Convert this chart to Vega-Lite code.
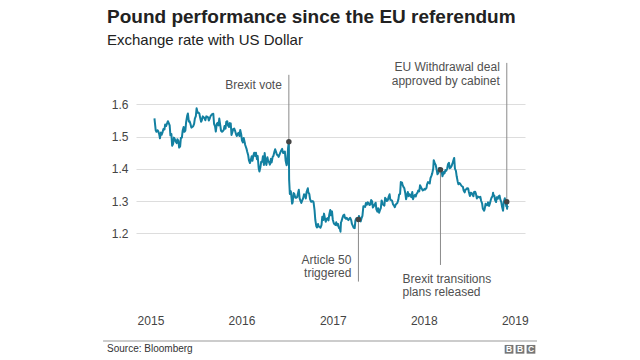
{
  "$schema": "https://vega.github.io/schema/vega-lite/v6.json",
  "width": 389,
  "height": 245,
  "autosize": "none",
  "padding": {"left": 136, "top": 60, "right": 115, "bottom": 55},
  "config": {"font": "Liberation Sans", "view": {"stroke": null}},
  "title": {
    "text": "Pound performance since the EU referendum",
    "subtitle": "Exchange rate with US Dollar",
    "anchor": "start", "frame": "group", "dx": -29, "offset": 12,
    "fontSize": 19, "fontWeight": "bold", "color": "#222222",
    "subtitleFontSize": 15, "subtitleColor": "#222222", "subtitlePadding": 6
  },
  "datasets": {
    "fx": [
      {"date":"2015-01-01","rate":1.557},{"date":"2015-01-06","rate":1.520},{"date":"2015-01-09","rate":1.515},{"date":"2015-01-13","rate":1.520},{"date":"2015-01-16","rate":1.517},{"date":"2015-01-20","rate":1.508},{"date":"2015-01-23","rate":1.495},{"date":"2015-01-27","rate":1.513},{"date":"2015-01-30","rate":1.506},
      {"date":"2015-02-03","rate":1.515},{"date":"2015-02-06","rate":1.524},{"date":"2015-02-10","rate":1.522},{"date":"2015-02-13","rate":1.538},{"date":"2015-02-17","rate":1.533},{"date":"2015-02-20","rate":1.540},{"date":"2015-02-24","rate":1.548},{"date":"2015-02-27","rate":1.543},
      {"date":"2015-03-03","rate":1.535},{"date":"2015-03-06","rate":1.504},{"date":"2015-03-10","rate":1.508},{"date":"2015-03-13","rate":1.472},{"date":"2015-03-17","rate":1.478},{"date":"2015-03-20","rate":1.497},{"date":"2015-03-24","rate":1.492},{"date":"2015-03-27","rate":1.485},{"date":"2015-03-31","rate":1.480},
      {"date":"2015-04-03","rate":1.492},{"date":"2015-04-07","rate":1.487},{"date":"2015-04-10","rate":1.466},{"date":"2015-04-14","rate":1.470},{"date":"2015-04-17","rate":1.496},{"date":"2015-04-21","rate":1.497},{"date":"2015-04-24","rate":1.518},{"date":"2015-04-28","rate":1.530},
      {"date":"2015-05-01","rate":1.515},{"date":"2015-05-05","rate":1.519},{"date":"2015-05-08","rate":1.545},{"date":"2015-05-12","rate":1.564},{"date":"2015-05-15","rate":1.572},{"date":"2015-05-19","rate":1.547},{"date":"2015-05-22","rate":1.548},{"date":"2015-05-26","rate":1.538},{"date":"2015-05-29","rate":1.528},
      {"date":"2015-06-02","rate":1.530},{"date":"2015-06-05","rate":1.532},{"date":"2015-06-09","rate":1.540},{"date":"2015-06-12","rate":1.556},{"date":"2015-06-16","rate":1.564},{"date":"2015-06-19","rate":1.588},{"date":"2015-06-23","rate":1.574},{"date":"2015-06-26","rate":1.575},{"date":"2015-06-30","rate":1.572},
      {"date":"2015-07-03","rate":1.560},{"date":"2015-07-07","rate":1.546},{"date":"2015-07-10","rate":1.551},{"date":"2015-07-14","rate":1.563},{"date":"2015-07-17","rate":1.560},{"date":"2015-07-21","rate":1.557},{"date":"2015-07-24","rate":1.551},{"date":"2015-07-28","rate":1.563},{"date":"2015-07-31","rate":1.562},
      {"date":"2015-08-04","rate":1.560},{"date":"2015-08-07","rate":1.550},{"date":"2015-08-11","rate":1.557},{"date":"2015-08-14","rate":1.564},{"date":"2015-08-18","rate":1.568},{"date":"2015-08-21","rate":1.570},{"date":"2015-08-25","rate":1.571},{"date":"2015-08-28","rate":1.540},
      {"date":"2015-09-01","rate":1.532},{"date":"2015-09-04","rate":1.516},{"date":"2015-09-08","rate":1.540},{"date":"2015-09-11","rate":1.543},{"date":"2015-09-15","rate":1.535},{"date":"2015-09-18","rate":1.556},{"date":"2015-09-22","rate":1.535},{"date":"2015-09-25","rate":1.518},{"date":"2015-09-29","rate":1.515},
      {"date":"2015-10-02","rate":1.517},{"date":"2015-10-06","rate":1.521},{"date":"2015-10-09","rate":1.533},{"date":"2015-10-13","rate":1.525},{"date":"2015-10-16","rate":1.546},{"date":"2015-10-20","rate":1.548},{"date":"2015-10-23","rate":1.535},{"date":"2015-10-27","rate":1.530},{"date":"2015-10-30","rate":1.542},
      {"date":"2015-11-03","rate":1.541},{"date":"2015-11-06","rate":1.505},{"date":"2015-11-10","rate":1.515},{"date":"2015-11-13","rate":1.524},{"date":"2015-11-17","rate":1.525},{"date":"2015-11-20","rate":1.519},{"date":"2015-11-24","rate":1.508},{"date":"2015-11-27","rate":1.502},
      {"date":"2015-12-01","rate":1.508},{"date":"2015-12-04","rate":1.512},{"date":"2015-12-08","rate":1.502},{"date":"2015-12-11","rate":1.521},{"date":"2015-12-15","rate":1.507},{"date":"2015-12-18","rate":1.488},{"date":"2015-12-22","rate":1.482},{"date":"2015-12-25","rate":1.496},{"date":"2015-12-29","rate":1.482},{"date":"2015-12-31","rate":1.474},
      {"date":"2016-01-05","rate":1.463},{"date":"2016-01-08","rate":1.453},{"date":"2016-01-12","rate":1.442},{"date":"2016-01-15","rate":1.426},{"date":"2016-01-19","rate":1.418},{"date":"2016-01-22","rate":1.427},{"date":"2016-01-26","rate":1.439},{"date":"2016-01-29","rate":1.425},
      {"date":"2016-02-02","rate":1.442},{"date":"2016-02-05","rate":1.450},{"date":"2016-02-09","rate":1.440},{"date":"2016-02-12","rate":1.450},{"date":"2016-02-16","rate":1.430},{"date":"2016-02-19","rate":1.440},{"date":"2016-02-23","rate":1.402},{"date":"2016-02-26","rate":1.392},
      {"date":"2016-03-01","rate":1.406},{"date":"2016-03-04","rate":1.422},{"date":"2016-03-08","rate":1.422},{"date":"2016-03-11","rate":1.439},{"date":"2016-03-15","rate":1.412},{"date":"2016-03-18","rate":1.449},{"date":"2016-03-22","rate":1.420},{"date":"2016-03-25","rate":1.412},{"date":"2016-03-29","rate":1.436},
      {"date":"2016-04-01","rate":1.424},{"date":"2016-04-05","rate":1.420},{"date":"2016-04-08","rate":1.413},{"date":"2016-04-12","rate":1.431},{"date":"2016-04-15","rate":1.420},{"date":"2016-04-19","rate":1.437},{"date":"2016-04-22","rate":1.440},{"date":"2016-04-26","rate":1.453},{"date":"2016-04-29","rate":1.461},
      {"date":"2016-05-03","rate":1.452},{"date":"2016-05-06","rate":1.444},{"date":"2016-05-10","rate":1.442},{"date":"2016-05-13","rate":1.437},{"date":"2016-05-17","rate":1.445},{"date":"2016-05-20","rate":1.451},{"date":"2016-05-24","rate":1.458},{"date":"2016-05-27","rate":1.462},{"date":"2016-05-31","rate":1.449},
      {"date":"2016-06-03","rate":1.450},{"date":"2016-06-07","rate":1.454},{"date":"2016-06-10","rate":1.426},{"date":"2016-06-14","rate":1.411},{"date":"2016-06-16","rate":1.417},{"date":"2016-06-20","rate":1.466},{"date":"2016-06-23","rate":1.484},{"date":"2016-06-24","rate":1.368},{"date":"2016-06-27","rate":1.322},{"date":"2016-06-30","rate":1.331},
      {"date":"2016-07-01","rate":1.330},{"date":"2016-07-06","rate":1.292},{"date":"2016-07-08","rate":1.295},{"date":"2016-07-12","rate":1.325},{"date":"2016-07-15","rate":1.322},{"date":"2016-07-19","rate":1.310},{"date":"2016-07-22","rate":1.310},{"date":"2016-07-26","rate":1.312},{"date":"2016-07-29","rate":1.322},
      {"date":"2016-08-02","rate":1.335},{"date":"2016-08-05","rate":1.309},{"date":"2016-08-09","rate":1.300},{"date":"2016-08-12","rate":1.294},{"date":"2016-08-16","rate":1.303},{"date":"2016-08-19","rate":1.308},{"date":"2016-08-23","rate":1.321},{"date":"2016-08-26","rate":1.320},{"date":"2016-08-30","rate":1.308},
      {"date":"2016-09-02","rate":1.328},{"date":"2016-09-07","rate":1.340},{"date":"2016-09-09","rate":1.327},{"date":"2016-09-13","rate":1.322},{"date":"2016-09-16","rate":1.306},{"date":"2016-09-20","rate":1.298},{"date":"2016-09-23","rate":1.298},{"date":"2016-09-27","rate":1.300},{"date":"2016-09-30","rate":1.297},
      {"date":"2016-10-04","rate":1.272},{"date":"2016-10-07","rate":1.242},{"date":"2016-10-11","rate":1.222},{"date":"2016-10-14","rate":1.218},{"date":"2016-10-18","rate":1.229},{"date":"2016-10-21","rate":1.221},{"date":"2016-10-25","rate":1.220},{"date":"2016-10-28","rate":1.217},
      {"date":"2016-11-01","rate":1.226},{"date":"2016-11-04","rate":1.251},{"date":"2016-11-08","rate":1.241},{"date":"2016-11-11","rate":1.261},{"date":"2016-11-15","rate":1.245},{"date":"2016-11-18","rate":1.236},{"date":"2016-11-22","rate":1.245},{"date":"2016-11-25","rate":1.247},{"date":"2016-11-29","rate":1.240},
      {"date":"2016-12-02","rate":1.258},{"date":"2016-12-06","rate":1.272},{"date":"2016-12-09","rate":1.256},{"date":"2016-12-13","rate":1.268},{"date":"2016-12-16","rate":1.243},{"date":"2016-12-20","rate":1.232},{"date":"2016-12-23","rate":1.228},{"date":"2016-12-27","rate":1.226},{"date":"2016-12-30","rate":1.234},
      {"date":"2017-01-03","rate":1.224},{"date":"2017-01-06","rate":1.229},{"date":"2017-01-10","rate":1.216},{"date":"2017-01-13","rate":1.218},{"date":"2017-01-16","rate":1.205},{"date":"2017-01-18","rate":1.234},{"date":"2017-01-20","rate":1.237},{"date":"2017-01-24","rate":1.248},{"date":"2017-01-27","rate":1.255},{"date":"2017-01-31","rate":1.258},
      {"date":"2017-02-03","rate":1.248},{"date":"2017-02-07","rate":1.245},{"date":"2017-02-10","rate":1.248},{"date":"2017-02-14","rate":1.243},{"date":"2017-02-17","rate":1.241},{"date":"2017-02-21","rate":1.246},{"date":"2017-02-24","rate":1.248},{"date":"2017-02-28","rate":1.241},
      {"date":"2017-03-03","rate":1.229},{"date":"2017-03-07","rate":1.222},{"date":"2017-03-10","rate":1.217},{"date":"2017-03-14","rate":1.216},{"date":"2017-03-17","rate":1.240},{"date":"2017-03-21","rate":1.247},{"date":"2017-03-24","rate":1.247},{"date":"2017-03-29","rate":1.243},{"date":"2017-03-31","rate":1.254},
      {"date":"2017-04-04","rate":1.244},{"date":"2017-04-07","rate":1.237},{"date":"2017-04-11","rate":1.248},{"date":"2017-04-14","rate":1.254},{"date":"2017-04-18","rate":1.284},{"date":"2017-04-21","rate":1.283},{"date":"2017-04-25","rate":1.282},{"date":"2017-04-28","rate":1.294},
      {"date":"2017-05-02","rate":1.289},{"date":"2017-05-05","rate":1.296},{"date":"2017-05-09","rate":1.294},{"date":"2017-05-12","rate":1.288},{"date":"2017-05-16","rate":1.289},{"date":"2017-05-19","rate":1.303},{"date":"2017-05-23","rate":1.299},{"date":"2017-05-26","rate":1.280},{"date":"2017-05-30","rate":1.285},
      {"date":"2017-06-02","rate":1.289},{"date":"2017-06-06","rate":1.295},{"date":"2017-06-09","rate":1.274},{"date":"2017-06-13","rate":1.267},{"date":"2017-06-16","rate":1.278},{"date":"2017-06-20","rate":1.264},{"date":"2017-06-23","rate":1.271},{"date":"2017-06-27","rate":1.279},{"date":"2017-06-30","rate":1.302},
      {"date":"2017-07-04","rate":1.293},{"date":"2017-07-07","rate":1.288},{"date":"2017-07-11","rate":1.286},{"date":"2017-07-14","rate":1.310},{"date":"2017-07-18","rate":1.306},{"date":"2017-07-21","rate":1.300},{"date":"2017-07-25","rate":1.303},{"date":"2017-07-28","rate":1.313},
      {"date":"2017-08-01","rate":1.321},{"date":"2017-08-04","rate":1.304},{"date":"2017-08-08","rate":1.303},{"date":"2017-08-11","rate":1.301},{"date":"2017-08-15","rate":1.289},{"date":"2017-08-18","rate":1.287},{"date":"2017-08-22","rate":1.281},{"date":"2017-08-25","rate":1.288},{"date":"2017-08-29","rate":1.292},
      {"date":"2017-09-01","rate":1.294},{"date":"2017-09-05","rate":1.304},{"date":"2017-09-08","rate":1.320},{"date":"2017-09-12","rate":1.322},{"date":"2017-09-15","rate":1.359},{"date":"2017-09-20","rate":1.357},{"date":"2017-09-22","rate":1.350},{"date":"2017-09-26","rate":1.343},{"date":"2017-09-29","rate":1.340},
      {"date":"2017-10-03","rate":1.324},{"date":"2017-10-06","rate":1.306},{"date":"2017-10-10","rate":1.318},{"date":"2017-10-13","rate":1.328},{"date":"2017-10-17","rate":1.315},{"date":"2017-10-20","rate":1.321},{"date":"2017-10-24","rate":1.319},{"date":"2017-10-27","rate":1.312},{"date":"2017-10-31","rate":1.328},
      {"date":"2017-11-03","rate":1.306},{"date":"2017-11-07","rate":1.315},{"date":"2017-11-10","rate":1.319},{"date":"2017-11-14","rate":1.314},{"date":"2017-11-17","rate":1.322},{"date":"2017-11-21","rate":1.326},{"date":"2017-11-24","rate":1.333},{"date":"2017-11-28","rate":1.330},
      {"date":"2017-12-01","rate":1.349},{"date":"2017-12-05","rate":1.343},{"date":"2017-12-08","rate":1.338},{"date":"2017-12-12","rate":1.333},{"date":"2017-12-15","rate":1.334},{"date":"2017-12-19","rate":1.338},{"date":"2017-12-22","rate":1.336},{"date":"2017-12-27","rate":1.341},{"date":"2017-12-29","rate":1.351},
      {"date":"2018-01-02","rate":1.359},{"date":"2018-01-05","rate":1.357},{"date":"2018-01-09","rate":1.355},{"date":"2018-01-12","rate":1.371},{"date":"2018-01-16","rate":1.379},{"date":"2018-01-19","rate":1.386},{"date":"2018-01-23","rate":1.401},{"date":"2018-01-25","rate":1.427},{"date":"2018-01-30","rate":1.416},
      {"date":"2018-02-02","rate":1.412},{"date":"2018-02-06","rate":1.396},{"date":"2018-02-09","rate":1.383},{"date":"2018-02-13","rate":1.388},{"date":"2018-02-16","rate":1.403},{"date":"2018-02-21","rate":1.397},{"date":"2018-02-23","rate":1.397},{"date":"2018-02-27","rate":1.386},
      {"date":"2018-03-01","rate":1.377},{"date":"2018-03-06","rate":1.390},{"date":"2018-03-09","rate":1.386},{"date":"2018-03-13","rate":1.396},{"date":"2018-03-16","rate":1.394},{"date":"2018-03-20","rate":1.401},{"date":"2018-03-23","rate":1.414},{"date":"2018-03-27","rate":1.419},{"date":"2018-03-30","rate":1.402},
      {"date":"2018-04-03","rate":1.404},{"date":"2018-04-06","rate":1.408},{"date":"2018-04-10","rate":1.416},{"date":"2018-04-13","rate":1.424},{"date":"2018-04-17","rate":1.434},{"date":"2018-04-20","rate":1.401},{"date":"2018-04-24","rate":1.394},{"date":"2018-04-27","rate":1.377},
      {"date":"2018-05-01","rate":1.361},{"date":"2018-05-04","rate":1.352},{"date":"2018-05-08","rate":1.356},{"date":"2018-05-11","rate":1.354},{"date":"2018-05-15","rate":1.349},{"date":"2018-05-18","rate":1.346},{"date":"2018-05-22","rate":1.344},{"date":"2018-05-25","rate":1.333},{"date":"2018-05-29","rate":1.327},
      {"date":"2018-06-01","rate":1.335},{"date":"2018-06-05","rate":1.337},{"date":"2018-06-08","rate":1.340},{"date":"2018-06-12","rate":1.339},{"date":"2018-06-15","rate":1.328},{"date":"2018-06-19","rate":1.316},{"date":"2018-06-22","rate":1.326},{"date":"2018-06-26","rate":1.325},{"date":"2018-06-29","rate":1.320},
      {"date":"2018-07-03","rate":1.315},{"date":"2018-07-06","rate":1.328},{"date":"2018-07-10","rate":1.329},{"date":"2018-07-13","rate":1.323},{"date":"2018-07-17","rate":1.308},{"date":"2018-07-20","rate":1.314},{"date":"2018-07-24","rate":1.313},{"date":"2018-07-27","rate":1.311},{"date":"2018-07-31","rate":1.313},
      {"date":"2018-08-03","rate":1.301},{"date":"2018-08-07","rate":1.293},{"date":"2018-08-10","rate":1.276},{"date":"2018-08-15","rate":1.270},{"date":"2018-08-17","rate":1.274},{"date":"2018-08-21","rate":1.292},{"date":"2018-08-24","rate":1.287},{"date":"2018-08-28","rate":1.287},{"date":"2018-08-31","rate":1.296},
      {"date":"2018-09-04","rate":1.285},{"date":"2018-09-07","rate":1.292},{"date":"2018-09-11","rate":1.304},{"date":"2018-09-14","rate":1.311},{"date":"2018-09-18","rate":1.315},{"date":"2018-09-20","rate":1.326},{"date":"2018-09-21","rate":1.319},{"date":"2018-09-25","rate":1.317},{"date":"2018-09-28","rate":1.303},
      {"date":"2018-10-02","rate":1.297},{"date":"2018-10-05","rate":1.312},{"date":"2018-10-09","rate":1.307},{"date":"2018-10-12","rate":1.315},{"date":"2018-10-16","rate":1.317},{"date":"2018-10-19","rate":1.305},{"date":"2018-10-23","rate":1.297},{"date":"2018-10-26","rate":1.282},{"date":"2018-10-30","rate":1.270},
      {"date":"2018-11-02","rate":1.297},{"date":"2018-11-06","rate":1.309},{"date":"2018-11-09","rate":1.297},{"date":"2018-11-12","rate":1.284},{"date":"2018-11-14","rate":1.298},{"date":"2018-11-15","rate":1.276},{"date":"2018-11-16","rate":1.283},{"date":"2018-11-20","rate":1.281}
    ],
    "events": [
      {"date":"2016-06-23","rate":1.484,"lineEnd":1.692},
      {"date":"2017-03-29","rate":1.243,"lineEnd":1.05},
      {"date":"2018-02-21","rate":1.397,"lineEnd":1.1016},
      {"date":"2018-11-14","rate":1.298,"lineEnd":1.729}
    ],
    "labelsRight": [
      {"date":"2016-06-23","rate":1.66,"text":"Brexit vote"},
      {"date":"2018-11-14","rate":1.715,"text":"EU Withdrawal deal"},
      {"date":"2018-11-14","rate":1.674,"text":"approved by cabinet"},
      {"date":"2017-03-29","rate":1.117,"text":"Article 50"},
      {"date":"2017-03-29","rate":1.076,"text":"triggered"}
    ],
    "labelsLeft": [
      {"date":"2018-02-21","rate":1.058,"text":"Brexit transitions"},
      {"date":"2018-02-21","rate":1.0168,"text":"plans released"}
    ],
    "footerRule": [{"date":"2014-06-09","date2":"2019-03-15","rate":0.8655}],
    "footerText": [{"date":"2014-06-25","rate":0.8407,"text":"Source: Bloomberg"}],
    "logo": [
      {"date":"2018-11-23","rate":0.8397,"text":"B"},
      {"date":"2019-01-06","rate":0.8397,"text":"B"},
      {"date":"2019-02-19","rate":0.8397,"text":"C"}
    ]
  },
  "encoding": {
    "x": {
      "field": "date", "type": "temporal",
      "scale": {"domain": ["2014-10-19", "2019-01-26"]},
      "axis": {
        "title": null, "grid": false, "domain": false, "ticks": false, "tickSize": 0,
        "values": ["2015-01-01", "2016-01-01", "2017-01-01", "2018-01-01", "2019-01-01"],
        "format": "%Y", "labelFontSize": 12, "labelColor": "#444444",
        "labelPadding": 10, "labelOffset": -4, "labelFlush": false, "labelOverlap": false
      }
    },
    "y": {
      "field": "rate", "type": "quantitative",
      "scale": {"domain": [0.9773, 1.738], "nice": false, "zero": false},
      "axis": {
        "title": null, "domain": false, "ticks": false, "tickSize": 0,
        "values": [1.2, 1.3, 1.4, 1.5, 1.6], "format": ".1f",
        "grid": true, "gridColor": "#dddddd", "gridWidth": 1,
        "labelFontSize": 12, "labelColor": "#444444", "labelPadding": 8
      }
    }
  },
  "layer": [
    {
      "data": {"name": "fx"},
      "mark": {"type": "line", "color": "#1380A1", "strokeWidth": 2, "strokeJoin": "round"}
    },
    {
      "data": {"name": "events"},
      "mark": {"type": "rule", "color": "#8a8a8a", "strokeWidth": 1},
      "encoding": {"y2": {"field": "lineEnd"}}
    },
    {
      "data": {"name": "events"},
      "mark": {"type": "circle", "color": "#444444", "size": 30, "opacity": 1}
    },
    {
      "data": {"name": "labelsRight"},
      "mark": {"type": "text", "align": "right", "baseline": "middle", "dx": -7, "fontSize": 12, "color": "#505050"},
      "encoding": {"text": {"field": "text"}}
    },
    {
      "data": {"name": "labelsLeft"},
      "mark": {"type": "text", "align": "left", "baseline": "middle", "dx": -38, "fontSize": 12, "color": "#505050"},
      "encoding": {"text": {"field": "text"}}
    },
    {
      "data": {"name": "footerRule"},
      "mark": {"type": "rule", "color": "#cccccc", "strokeWidth": 2},
      "encoding": {"x2": {"field": "date2"}}
    },
    {
      "data": {"name": "footerText"},
      "mark": {"type": "text", "align": "left", "baseline": "middle", "fontSize": 10, "color": "#333333"},
      "encoding": {"text": {"field": "text"}}
    },
    {
      "data": {"name": "logo"},
      "mark": {"type": "point", "shape": "square", "filled": true, "size": 76, "color": "#777777", "opacity": 1}
    },
    {
      "data": {"name": "logo"},
      "mark": {"type": "text", "align": "center", "baseline": "middle", "fontSize": 8.5, "fontWeight": "bold", "color": "#ffffff"},
      "encoding": {"text": {"field": "text"}}
    }
  ]
}
